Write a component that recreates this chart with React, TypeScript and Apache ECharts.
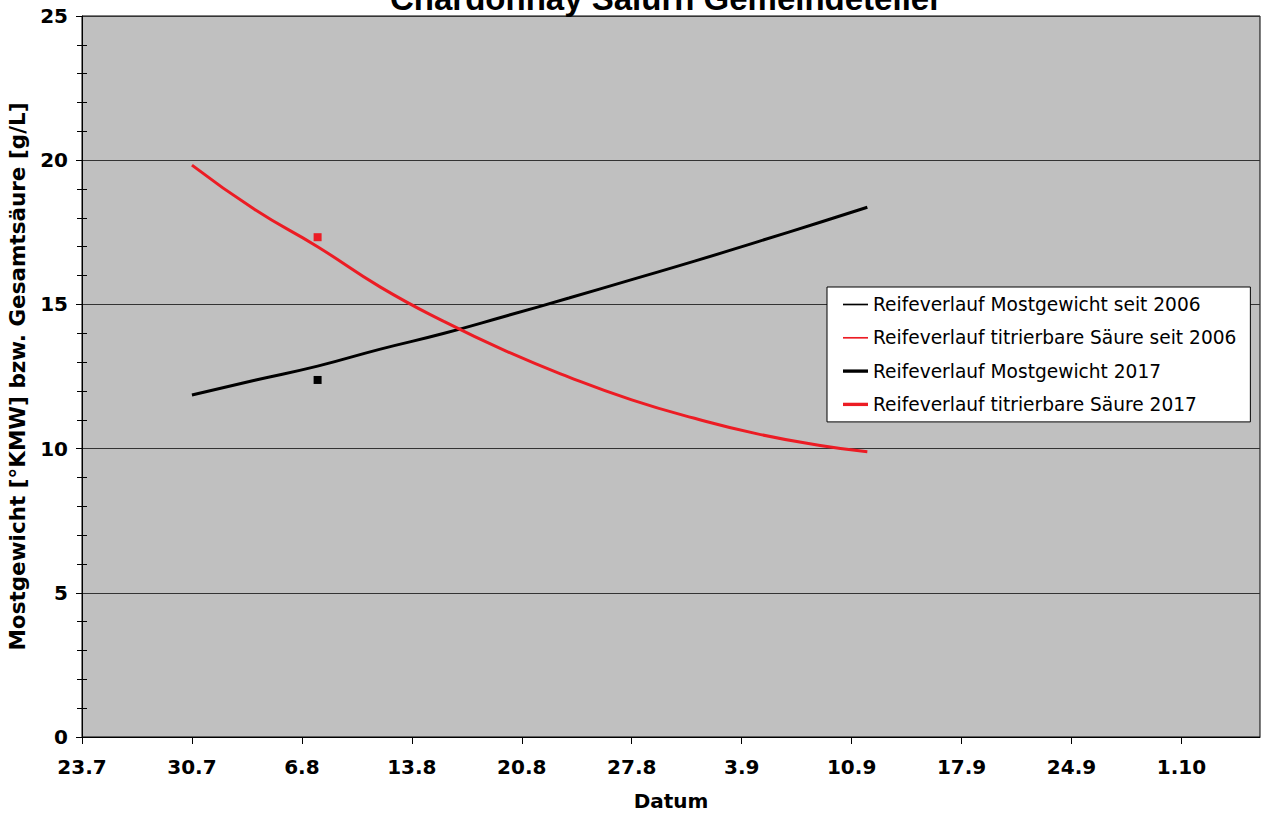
import React, { useEffect, useRef } from "react";
import * as echarts from "echarts";

// Days counted from 23.7. (x = 0)
const xTickDays = [0, 7, 14, 21, 28, 35, 42, 49, 56, 63, 70];
const xTickLabels = ["23.7", "30.7", "6.8", "13.8", "20.8", "27.8", "3.9", "10.9", "17.9", "24.9", "1.10"];
const xMaxDay = 75;

const trendDays = [7, 11, 15, 19, 23, 27, 31, 35, 39, 43, 47, 50];
const mostgewichtSeit2006 = [11.86, 12.37, 12.86, 13.45, 13.99, 14.6, 15.22, 15.86, 16.5, 17.17, 17.85, 18.37];
const saeureSeit2006 = [19.83, 18.29, 17.0, 15.6, 14.42, 13.38, 12.48, 11.69, 11.05, 10.51, 10.11, 9.89];

const days2017 = [15];
const mostgewicht2017 = [12.38];
const saeure2017 = [17.33];

const seriesNames = [
  "Reifeverlauf Mostgewicht seit 2006",
  "Reifeverlauf titrierbare Säure seit 2006",
  "Reifeverlauf Mostgewicht 2017",
  "Reifeverlauf titrierbare Säure 2017",
];

const BLACK = "#000000";
const RED = "#ec1c24";
const thinIcon = "path://M0,0L24,0L24,1.6L0,1.6Z";
const thickIcon = "path://M0,0L24,0L24,3.2L0,3.2Z";

const pair = (xs: number[], ys: number[]) => xs.map((x, i) => [x, ys[i]]);

export default function App() {
  const ref = useRef<HTMLDivElement>(null);
  useEffect(() => {
    if (!ref.current) return;
    const chart = echarts.init(ref.current, undefined, { renderer: "svg" });
    const boldFont = { fontFamily: "DejaVu Sans", fontWeight: "bold" as const, fontSize: 20, color: "#000" };
    chart.setOption({
      animation: false,
      backgroundColor: "#ffffff",
      title: {
        text: "Chardonnay Salurn Gemeindeteller",
        left: 666,
        textAlign: "center",
        top: -18,
        padding: 0,
        textStyle: { fontFamily: "Liberation Sans", fontWeight: "bold", fontSize: 33, color: "#000" },
      },
      grid: {
        left: 82,
        top: 16,
        right: 2,
        bottom: 77,
        containLabel: false,
        outerBoundsMode: "none",
        show: true,
        backgroundColor: "#c0c0c0",
        borderColor: "#000",
        borderWidth: 1,
      },
      legend: {
        orient: "vertical",
        left: 827,
        top: 287,
        padding: [8, 14, 8, 16],
        itemWidth: 25,
        itemHeight: 14,
        itemGap: 14.3,
        symbolKeepAspect: true,
        backgroundColor: "#ffffff",
        borderColor: "#000",
        borderWidth: 1,
        textStyle: { fontFamily: "DejaVu Sans", fontSize: 18.6, lineHeight: 18, color: "#000" },
        data: [
          { name: seriesNames[0], icon: thinIcon, itemStyle: { color: BLACK } },
          { name: seriesNames[1], icon: thinIcon, itemStyle: { color: RED } },
          { name: seriesNames[2], icon: thickIcon, itemStyle: { color: BLACK } },
          { name: seriesNames[3], icon: thickIcon, itemStyle: { color: RED } },
        ],
      },
      xAxis: {
        type: "value",
        min: 0,
        max: xMaxDay,
        interval: 7,
        name: "Datum",
        nameLocation: "middle",
        nameGap: 54,
        nameTextStyle: boldFont,
        axisLine: { show: true, onZero: false, lineStyle: { color: "#000", width: 1 } },
        axisTick: { show: true, length: 7, lineStyle: { color: "#000" }, customValues: xTickDays },
        axisLabel: {
          ...boldFont,
          margin: 20,
          customValues: xTickDays,
          formatter: (v: number) => {
            const i = xTickDays.indexOf(Math.round(v));
            return i >= 0 ? xTickLabels[i] : "";
          },
        },
        splitLine: { show: false },
      },
      yAxis: [
        {
          type: "value",
          min: 0,
          max: 25,
          interval: 5,
          name: "Mostgewicht [°KMW] bzw. Gesamtsäure [g/L]",
          nameLocation: "middle",
          nameGap: 54,
          nameTextStyle: { ...boldFont, fontSize: 21.5 },
          axisLine: { show: true, lineStyle: { color: "#000", width: 1 } },
          axisTick: { show: true, length: 6, lineStyle: { color: "#000" } },
          minorTick: { show: true, splitNumber: 5, length: 5, lineStyle: { color: "#000" } },
          axisLabel: { ...boldFont, margin: 14 },
          splitLine: { show: true, lineStyle: { color: "#333", width: 1 } },
        },
        {
          type: "value",
          min: 0,
          max: 25,
          interval: 5,
          position: "left",
          axisLine: { show: false },
          axisTick: { show: false, inside: true },
          minorTick: { show: true, splitNumber: 5, length: 5, lineStyle: { color: "#000" } },
          axisLabel: { show: false },
          splitLine: { show: false },
        },
      ],
      series: [
        {
          name: seriesNames[0],
          type: "line",
          smooth: true,
          symbol: "none",
          color: BLACK,
          lineStyle: { color: BLACK, width: 3 },
          data: pair(trendDays, mostgewichtSeit2006),
        },
        {
          name: seriesNames[1],
          type: "line",
          smooth: true,
          symbol: "none",
          color: RED,
          lineStyle: { color: RED, width: 3 },
          data: pair(trendDays, saeureSeit2006),
        },
        {
          name: seriesNames[2],
          type: "line",
          symbol: "rect",
          symbolSize: 8,
          color: BLACK,
          itemStyle: { color: BLACK },
          lineStyle: { color: BLACK, width: 3.5 },
          data: pair(days2017, mostgewicht2017),
        },
        {
          name: seriesNames[3],
          type: "line",
          symbol: "rect",
          symbolSize: 8,
          color: RED,
          itemStyle: { color: RED },
          lineStyle: { color: RED, width: 3.5 },
          data: pair(days2017, saeure2017),
        },
      ],
    });
    return () => chart.dispose();
  }, []);
  return (
    <div
      ref={ref}
      style={{ position: "absolute", left: 0, top: 0, width: 1262, height: 814 }}
    />
  );
}
